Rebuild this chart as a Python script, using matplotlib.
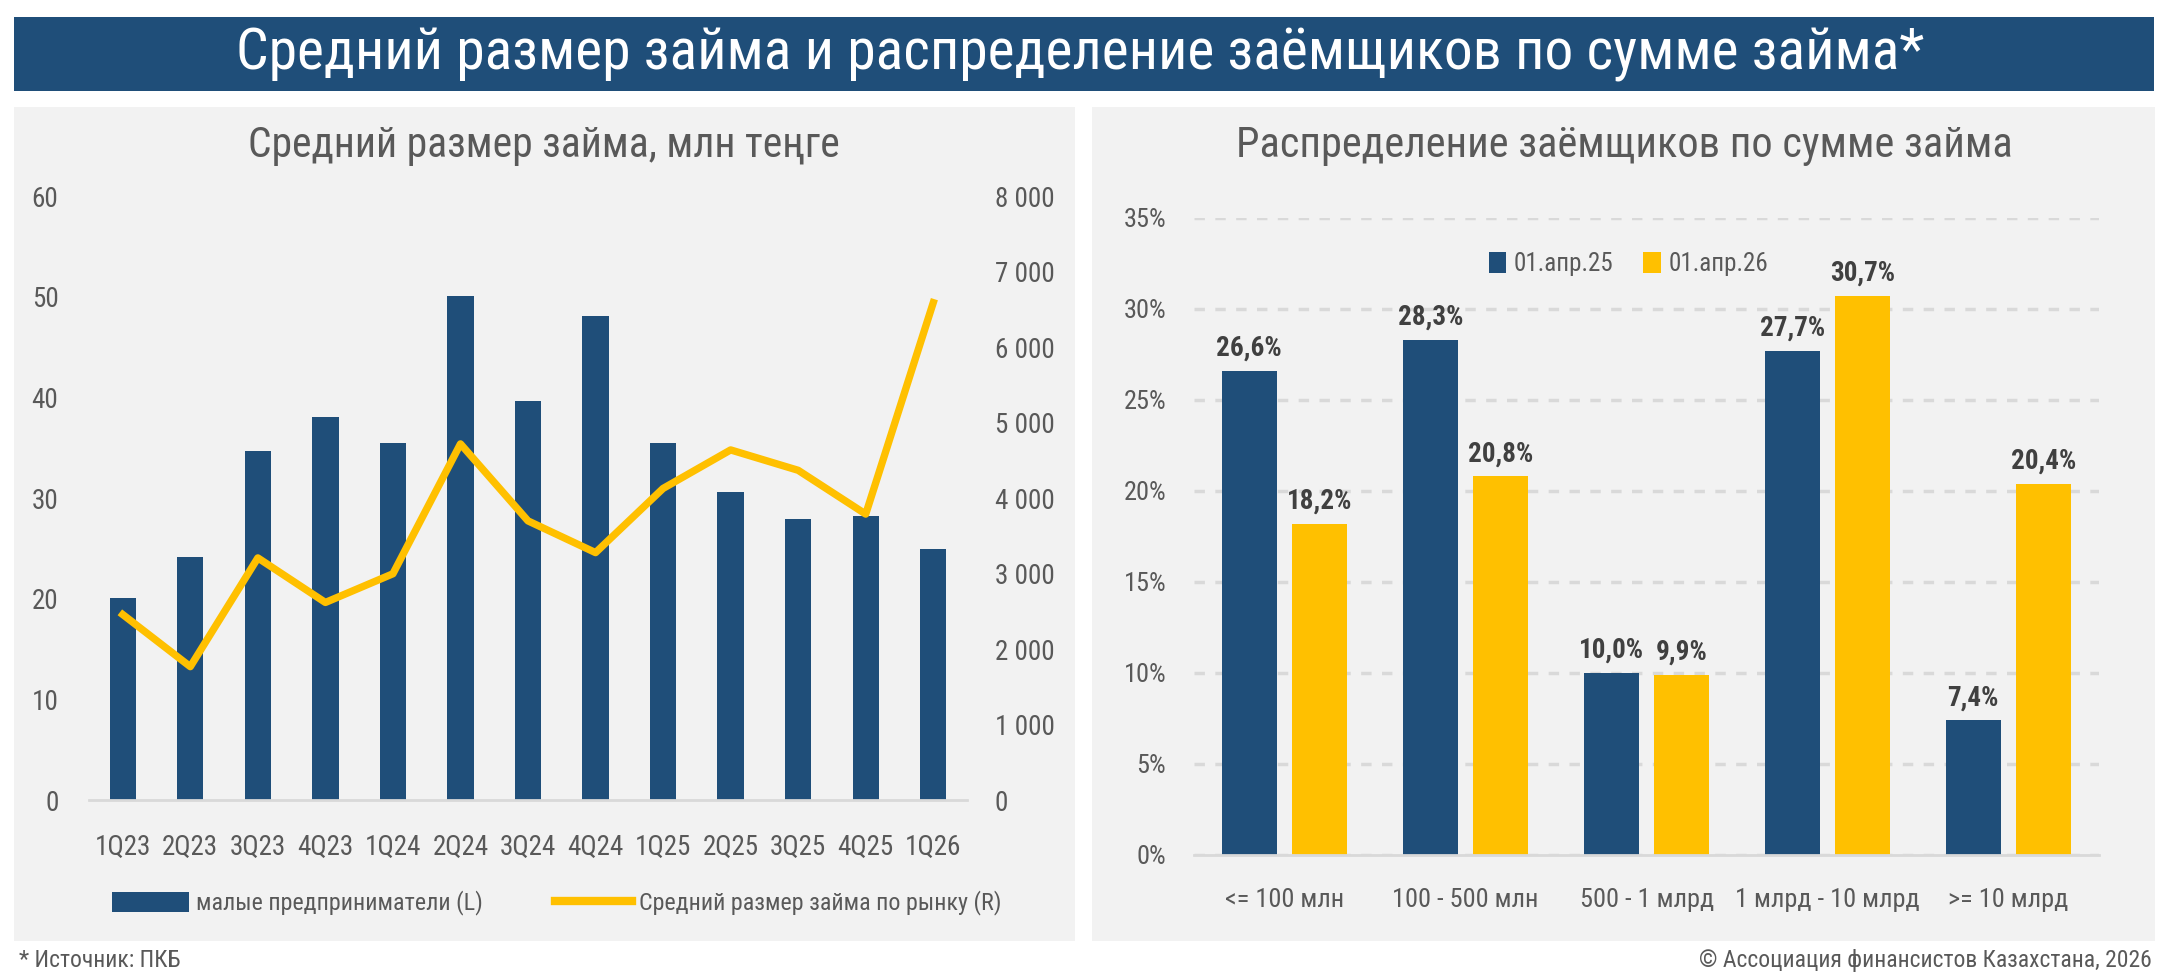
import matplotlib.pyplot as plt
import numpy as np
from matplotlib.patches import Rectangle
from matplotlib.lines import Line2D
from matplotlib.ticker import FuncFormatter

plt.rcParams['font.family'] = ['Roboto Condensed', 'Liberation Sans Narrow', 'DejaVu Sans']
plt.rcParams['font.stretch'] = 'condensed'

NAVY = '#1F4E79'
YELLOW = '#FFC000'
PANEL = '#F2F2F2'
GRAY = '#595959'

# Left chart data
quarters = ['1Q23', '2Q23', '3Q23', '4Q23', '1Q24', '2Q24', '3Q24', '4Q24',
            '1Q25', '2Q25', '3Q25', '4Q25', '1Q26']
small_business = [20.1, 24.2, 34.7, 38.1, 35.5, 50.1, 39.7, 48.1, 35.5, 30.6, 27.9, 28.2, 25.0]
market_avg = [2460, 1770, 3210, 2620, 3000, 4720, 3700, 3280, 4130, 4640, 4370, 3790, 6590]

# Right chart data
buckets = ['<= 100 млн', '100 - 500 млн', '500 - 1 млрд', '1 млрд - 10 млрд', '>= 10 млрд']
apr25 = [26.6, 28.3, 10.0, 27.7, 7.4]
apr26 = [18.2, 20.8, 9.9, 30.7, 20.4]

fig = plt.figure(figsize=(21.6, 9.76), dpi=100)
fig.patch.set_facecolor('white')

# Title bar and panels
fig.add_artist(Rectangle((0.0065, 0.9068), 0.9907, 0.0758, transform=fig.transFigure,
                         facecolor=NAVY, edgecolor='none', zorder=0))
fig.text(0.5, 0.944, 'Средний размер займа и распределение заёмщиков по сумме займа*',
         color='white', fontsize=41.5, ha='center', va='center')
fig.add_artist(Rectangle((0.0065, 0.0359), 0.4912, 0.8545, transform=fig.transFigure,
                         facecolor=PANEL, edgecolor='none', zorder=0))
fig.add_artist(Rectangle((0.5056, 0.0359), 0.4921, 0.8545, transform=fig.transFigure,
                         facecolor=PANEL, edgecolor='none', zorder=0))

fig.text(0.252, 0.851, 'Средний размер займа, млн теңге', color=GRAY, fontsize=30,
         ha='center', va='center')
fig.text(0.752, 0.851, 'Распределение заёмщиков по сумме займа', color=GRAY, fontsize=30.5,
         ha='center', va='center')

fig.text(0.009, 0.016, '* Источник: ПКБ', color=GRAY, fontsize=17, ha='left', va='center')
fig.text(0.996, 0.016, '© Ассоциация финансистов Казахстана, 2026', color=GRAY, fontsize=17,
         ha='right', va='center')

# ---- Left chart ----
ax = fig.add_axes([0.0412, 0.180, 0.4065, 0.619])
ax.set_facecolor('none')
x = np.arange(len(quarters))
ax.bar(x, small_business, width=0.39, color=NAVY, zorder=2)
ax.set_xlim(-0.5, len(quarters) - 0.5)
ax.set_ylim(0, 60)
ax.set_yticks(range(0, 61, 10))
ax.set_xticks(x)
ax.set_xticklabels(quarters)
for s in ['top', 'right', 'left']:
    ax.spines[s].set_visible(False)
ax.spines['bottom'].set_color('#D9D9D9')
ax.spines['bottom'].set_linewidth(2)
ax.tick_params(axis='both', length=0, colors=GRAY, labelsize=19.5)
ax.tick_params(axis='y', pad=22)
ax.tick_params(axis='x', pad=24)

ax2 = ax.twinx()
ax2.plot(x, market_avg, color=YELLOW, lw=5.3, solid_joinstyle='round', zorder=3)
ax2.set_ylim(0, 8000)
ax2.set_yticks(range(0, 8001, 1000))
ax2.yaxis.set_major_formatter(FuncFormatter(lambda v, p: f'{int(v):,}'.replace(',', ' ')))
for s in ['top', 'right', 'left', 'bottom']:
    ax2.spines[s].set_visible(False)
ax2.tick_params(axis='y', length=0, colors=GRAY, labelsize=19.5, pad=20)

handles = [Rectangle((0, 0), 1, 1, facecolor=NAVY),
           Line2D([0], [0], color=YELLOW, lw=6)]
leg = ax.legend(handles, ['малые предприниматели (L)', 'Средний размер займа по рынку (R)'],
                loc='center', bbox_to_anchor=(0.533, -0.17), ncol=2, frameon=False,
                fontsize=17.3, handlelength=3.2, handleheight=0.9, columnspacing=3.0,
                handletextpad=0.3)
for t in leg.get_texts():
    t.set_color(GRAY)

# ---- Right chart ----
bx = fig.add_axes([0.5528, 0.124, 0.4190, 0.6527])
bx.set_facecolor('none')
xb = np.arange(len(buckets))
w = 0.305
off = 0.195
b1 = bx.bar(xb - off, apr25, width=w, color=NAVY, label='01.апр.25', zorder=2)
b2 = bx.bar(xb + off, apr26, width=w, color=YELLOW, label='01.апр.26', zorder=2)
for bars, vals in [(b1, apr25), (b2, apr26)]:
    for rect, v in zip(bars, vals):
        bx.text(rect.get_x() + rect.get_width() / 2, v + 0.5, f'{v:.1f}%'.replace('.', ','),
                ha='center', va='bottom', fontsize=19.5, fontweight='bold', color='#404040')
bx.set_xlim(-0.5, len(buckets) - 0.5)
bx.set_ylim(0, 35)
bx.set_yticks(range(0, 36, 5))
bx.yaxis.set_major_formatter(FuncFormatter(lambda v, p: f'{int(v)}%'))
bx.set_xticks(xb)
bx.set_xticklabels(buckets)
bx.yaxis.grid(True, color='#D9D9D9', lw=2.5, linestyle=(0, (3, 3)), zorder=0)
bx.set_axisbelow(True)
for s in ['top', 'right', 'left']:
    bx.spines[s].set_visible(False)
bx.spines['bottom'].set_color('#D9D9D9')
bx.spines['bottom'].set_linewidth(2)
bx.tick_params(axis='both', length=0, colors=GRAY, labelsize=19)
bx.tick_params(axis='y', pad=20)
bx.tick_params(axis='x', pad=24)
leg2 = bx.legend(loc='center', bbox_to_anchor=(0.48, 0.927), ncol=2, frameon=False,
                 fontsize=18, handlelength=0.7, handleheight=0.9, handletextpad=0.3,
                 columnspacing=1.2)
for t in leg2.get_texts():
    t.set_color(GRAY)

fig.savefig('out.png', dpi=100, facecolor='white')
